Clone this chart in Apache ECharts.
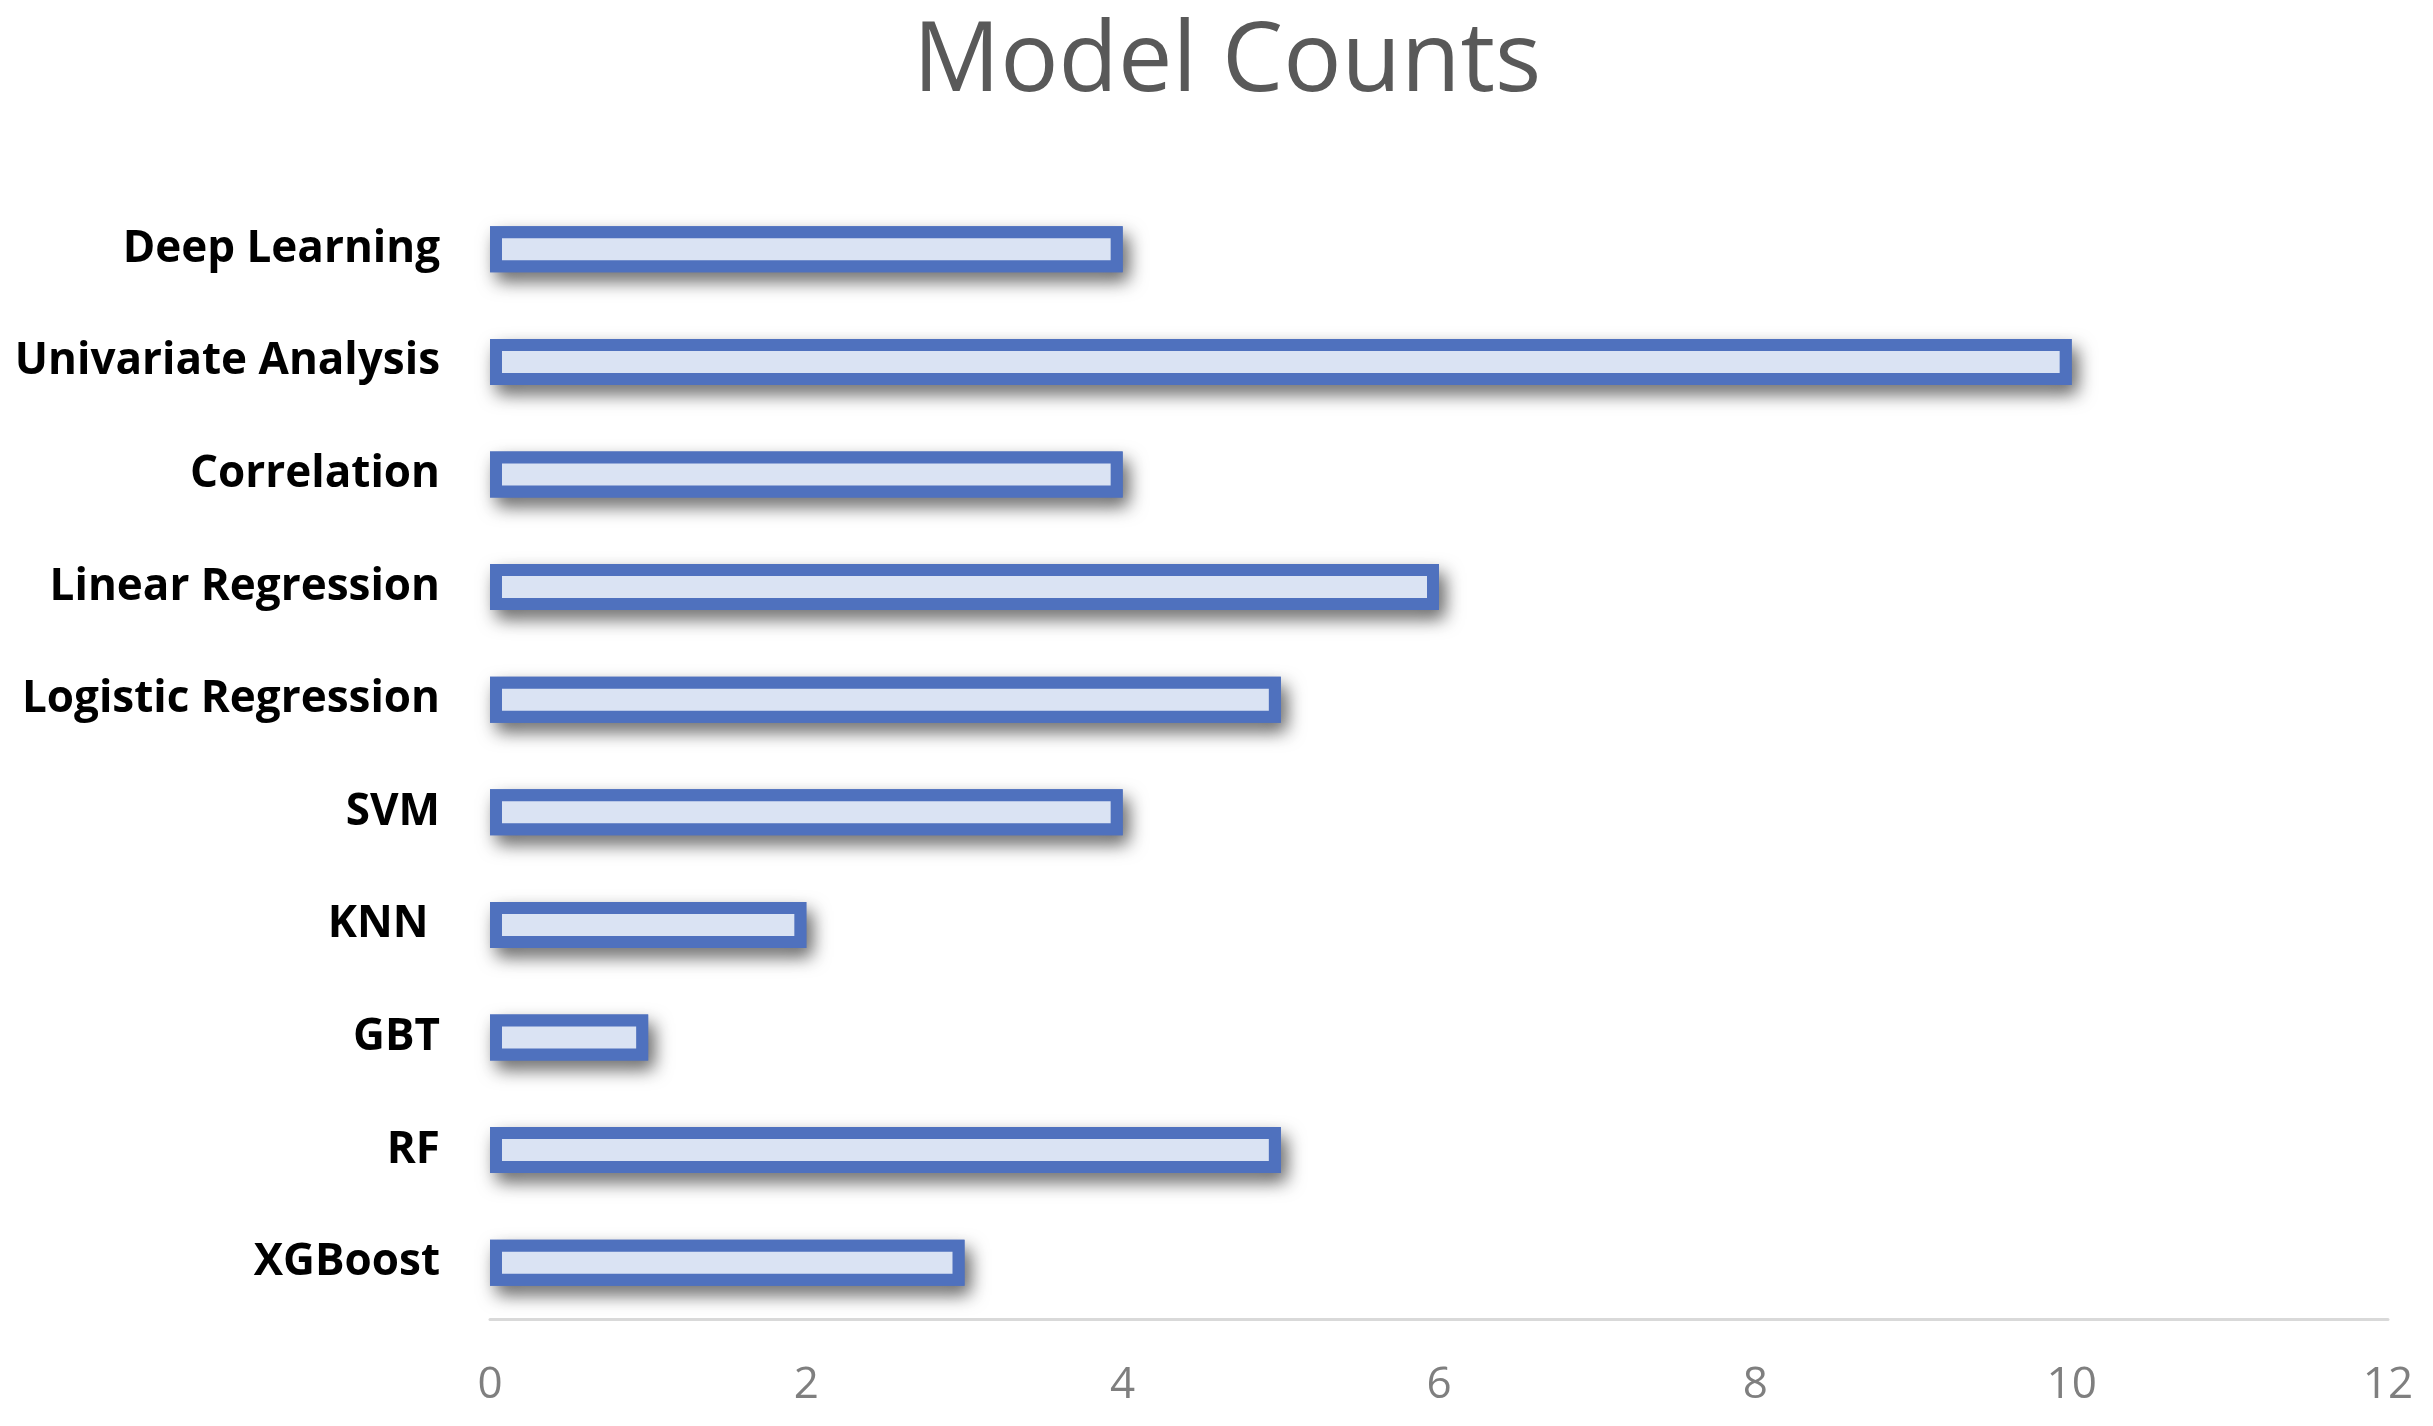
<!DOCTYPE html>
<html>
<head>
<meta charset="utf-8">
<script src="https://cdn.jsdelivr.net/npm/echarts@6/dist/echarts.min.js"></script>
<style>
html,body{margin:0;padding:0;background:#fff;}
#chart{width:2433px;height:1426px;}
</style>
</head>
<body>
<div id="chart"></div>
<script>
const titleText = "Model Counts";
const categories = ["Deep Learning", "Univariate Analysis", "Correlation", "Linear Regression", "Logistic Regression", "SVM", "KNN ", "GBT", "RF", "XGBoost"];
const counts = [4, 10, 4, 6, 5, 4, 2, 1, 5, 3];
const xTicks = [0, 2, 4, 6, 8, 10, 12];

const barStyle = {
  color: '#dae3f3',
  borderColor: '#4f71be',
  borderWidth: 12
};

const chart = echarts.init(document.getElementById('chart'));
chart.setOption({
  backgroundColor: '#ffffff',
  animation: false,
  title: {
    text: titleText,
    left: 908,
    top: 6,
    textStyle: {
      fontFamily: 'Open Sans',
      fontWeight: 'normal',
      fontSize: 97,
      lineHeight: 104,
      color: '#595959'
    }
  },
  grid: {
    left: 490,
    right: 45,
    top: 193,
    bottom: 107,
    containLabel: false
  },
  xAxis: {
    type: 'value',
    min: xTicks[0],
    max: xTicks[xTicks.length - 1],
    interval: 2,
    axisLine: { show: true, lineStyle: { color: '#d9d9d9', width: 3 } },
    axisTick: { show: false },
    splitLine: { show: false },
    axisLabel: {
      margin: 44,
      fontFamily: 'Open Sans',
      fontSize: 44,
      color: '#7f7f7f'
    }
  },
  yAxis: {
    type: 'category',
    inverse: true,
    data: categories,
    axisLine: { show: false },
    axisTick: { show: false },
    axisLabel: {
      margin: 50,
      fontFamily: 'Open Sans',
      fontWeight: 'bold',
      fontSize: 44,
      color: '#000000'
    }
  },
  series: [{
    type: 'bar',
    data: counts,
    barWidth: 46,
    silent: true,
    itemStyle: Object.assign({}, barStyle, {
      shadowColor: 'rgba(0,0,0,0.5)',
      shadowBlur: 18,
      shadowOffsetX: 6,
      shadowOffsetY: 9
    })
  }, {
    type: 'bar',
    data: counts,
    barWidth: 46,
    barGap: '-100%',
    itemStyle: barStyle
  }]
});
</script>
</body>
</html>
